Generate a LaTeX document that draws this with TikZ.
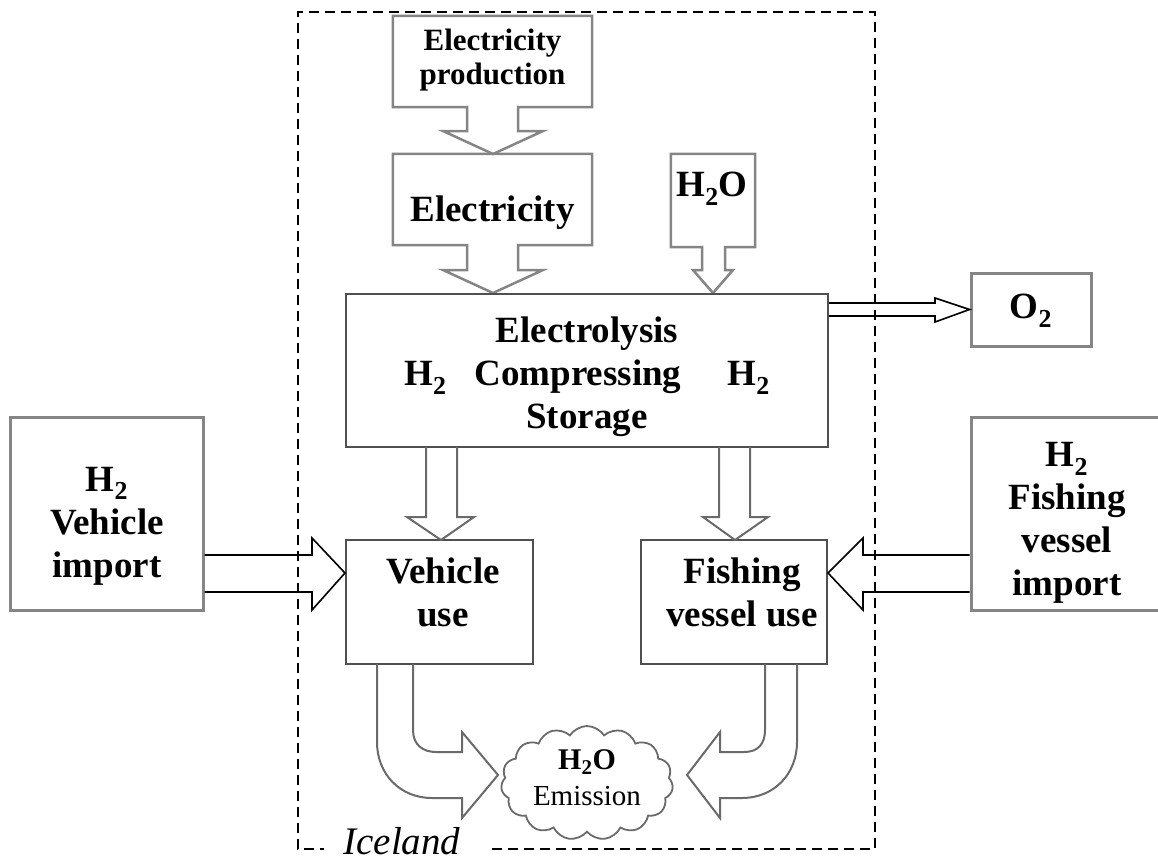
\documentclass[tikz,border=0pt]{standalone}
\usepackage{fontspec}
\setmainfont{Liberation Serif}
\usetikzlibrary{shapes.symbols}
\definecolor{boxgray}{HTML}{858585}
\definecolor{linegray}{HTML}{6A6A6A}
\definecolor{darkgray2}{HTML}{505050}
\tikzset{
  bigtxt/.style={font=\fontsize{37}{43}\selectfont\bfseries, align=center, inner sep=0pt},
  midtxt/.style={font=\fontsize{31}{34}\selectfont\bfseries, align=center, inner sep=0pt},
  plainbox/.style={rectangle, inner sep=0pt, draw=none},
  importbox/.style={rectangle, inner sep=0pt, draw=boxgray, line width=3pt},
  usebox/.style={rectangle, inner sep=0pt, draw=darkgray2, line width=2pt},
  grayarrow/.style={draw=linegray, line width=2pt, line join=miter},
  blackarrow/.style={draw=black, line width=1.6pt, line join=miter},
  frame/.style={draw=black, line width=2.8pt, dash pattern=on 10pt off 6pt},
}
\newcommand{\Htwo}{H\textsubscript{2}}
\begin{document}
\begin{tikzpicture}[x=1pt,y=-1pt]
\useasboundingbox (0,0) rectangle (1158,862);

% ---- box + arrow outlines (top column) ----
\node[plainbox, minimum width=199pt, minimum height=91pt] (ep) at (492.5,61.5) {};
\draw[grayarrow, draw=boxgray, line width=2.5pt] (ep.north west) -- (ep.north east) -- (ep.south east)
  -- (518,107) -- (518,131) -- (543,131) -- (493,154) -- (443,131) -- (467,131) -- (467,107)
  -- (ep.south west) -- cycle;
\node[midtxt] (epT) at (492.5,60) {Electricity\\production};

\node[plainbox, minimum width=199pt, minimum height=91pt] (el) at (492.5,199.5) {};
\draw[grayarrow, draw=boxgray, line width=2.5pt] (el.north west) -- (el.north east) -- (el.south east)
  -- (518,245) -- (518,270) -- (543,270) -- (493,293) -- (443,270) -- (467,270) -- (467,245)
  -- (el.south west) -- cycle;
\node[bigtxt] (elT) at (492.5,213) {Electricity};

\node[plainbox, minimum width=84pt, minimum height=93pt] (h2o) at (713,200.5) {};
\draw[grayarrow, draw=boxgray, line width=2.5pt] (h2o.north west) -- (h2o.north east) -- (h2o.south east)
  -- (725,247) -- (725,270) -- (733,270) -- (713,293) -- (693,270) -- (702,270) -- (702,247)
  -- (h2o.south west) -- cycle;
\node[bigtxt] (h2oT) at (712,189) {\Htwo O};

% ---- electrolysis ----
\node[usebox, minimum width=482pt, minimum height=153pt] (elx) at (587,370.5) {};
\node[bigtxt] (elxT) at (587,377) {Electrolysis\\\Htwo\hspace{28pt}Compressing\hspace{46pt}\Htwo\\Storage};

% ---- O2 ----
\node[importbox, minimum width=120pt, minimum height=73pt] (o2) at (1031,309.5) {};
\node[bigtxt] (o2T) at (1031,311) {O\textsubscript{2}};
\draw[blackarrow] (elx.east |- 0,303) -- (935,303) -- (935,298) -- (o2.west) -- (935,322) -- (935,316) -- (elx.east |- 0,316);

% ---- use boxes ----
\node[usebox, minimum width=187pt, minimum height=124pt] (vuse) at (439.5,602) {};
\node[bigtxt] (vuseT) at (443,592) {Vehicle\\use};
\node[usebox, minimum width=186pt, minimum height=124pt] (fuse) at (734,602) {};
\node[bigtxt] (fuseT) at (742,592) {Fishing\\vessel use};

% down arrows from electrolysis
\draw[grayarrow] (426,447) -- (426,517) -- (407,517) -- (441,540) -- (474,517) -- (457,517) -- (457,447);
\draw[grayarrow] (719,447) -- (719,517) -- (703,517) -- (735,540) -- (768,517) -- (750,517) -- (750,447);

% ---- import boxes ----
\node[importbox, minimum width=193pt, minimum height=193pt] (vimp) at (106.5,513.5) {};
\node[bigtxt] (vimpT) at (107,526) {\Htwo\\Vehicle\\import};
\node[importbox, minimum width=188pt, minimum height=193pt] (fimp) at (1065,513.5) {};
\node[bigtxt] (fimpT) at (1067,523) {\Htwo\\Fishing\\vessel\\import};

\draw[blackarrow] (vimp.east |- 0,555) -- (312,555) -- (312,538) -- (vuse.west |- 0,573) -- (312,610) -- (312,592) -- (vimp.east |- 0,592);
\draw[blackarrow] (fimp.west |- 0,555) -- (863,555) -- (863,538) -- (fuse.east |- 0,573) -- (863,610) -- (863,592) -- (fimp.west |- 0,592);

% ---- cloud ----
\node[cloud, cloud puffs=15, cloud puff arc=115, aspect=1.5, draw=linegray, line width=1.8pt,
      minimum width=172pt, minimum height=114pt, inner sep=0pt] (cl) at (587,783) {};
\node[font=\fontsize{30}{34}\selectfont\bfseries, inner sep=0pt] (clH) at (587,762) {\Htwo O};
\node[font=\fontsize{29}{34}\selectfont, inner sep=0pt] (clE) at (587,796) {Emission};

% curved arrows
\draw[grayarrow] (377,664) -- (377,742) .. controls (377,774) and (400,798) .. (432,798)
  -- (462,798) -- (462,818) -- (498,775) -- (462,732) -- (462,752) -- (436,752)
  .. controls (422,752) and (413,744) .. (413,730) -- (413,664);
\draw[grayarrow] (797,664) -- (797,742) .. controls (797,774) and (774,798) .. (742,798)
  -- (720,798) -- (720,818) -- (687,775) -- (720,732) -- (720,752) -- (744,752)
  .. controls (758,752) and (765,744) .. (765,730) -- (765,664);

% ---- Iceland frame ----
\coordinate (fA) at (492,849);
\coordinate (fB) at (875,849);
\coordinate (fC) at (875,12);
\coordinate (fD) at (298,12);
\coordinate (fE) at (298,849);
\coordinate (fF) at (324,849);
\draw[frame] (fA) -- (fB) -- (fC) -- (fD) -- (fE) -- (fF);
\node[font=\fontsize{39}{44}\selectfont\itshape, inner sep=0pt, anchor=base] (ice) at (402,854) {Iceland};
\end{tikzpicture}
\end{document}
